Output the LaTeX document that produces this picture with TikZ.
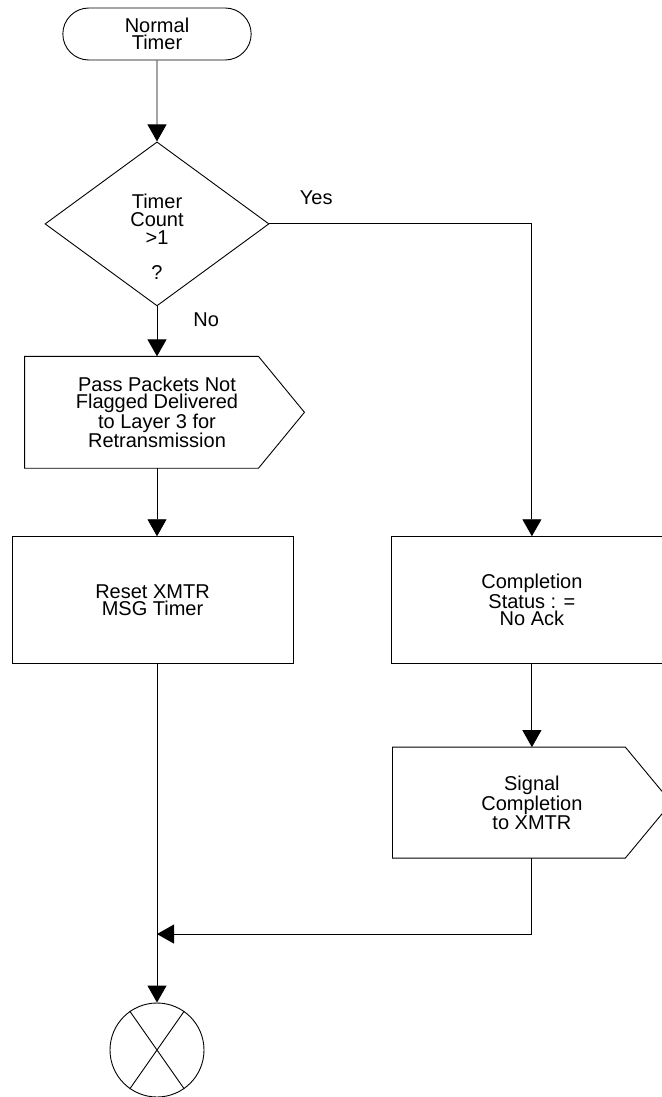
\documentclass[tikz,border=0pt]{standalone}
\usepackage{fontspec}
\setmainfont{Liberation Sans}
\usetikzlibrary{arrows.meta,positioning,shapes.geometric,shapes.misc}

\tikzset{
  terminal/.style={rounded rectangle, draw, align=center,
    minimum width=195pt, minimum height=52pt},
  decision/.style={diamond, draw, minimum width=224pt, minimum height=164pt},
  process/.style={rectangle, draw, align=center,
    minimum width=281pt, minimum height=127pt},
  outbox/.style={rectangle, align=center,
    minimum width=278pt, minimum height=111pt},
  sink/.style={circle, draw, minimum size=94pt, inner sep=0pt},
  lbl/.style={inner sep=0pt}
}

\begin{document}
\begin{tikzpicture}[x=1pt, y=1pt,
    font=\fontsize{20pt}{17.6pt}\selectfont,
    line width=0.9pt,
    >={Triangle[length=17pt, width=19pt]}]
  \useasboundingbox (0,0) rectangle (661,-1097);

  \node[terminal] (start) at (157,-34) {Normal\\Timer};
  \node[decision,
        below=81pt of start,
        label={[align=center, yshift=-13pt]center:{Timer\\Count\\>1\\[17.6pt]?}}] (cnt) {};
  \node[outbox,
        below=50pt of cnt,
        minimum width=264pt] (pass) {Pass Packets Not\\Flagged Delivered\\to Layer 3 for\\Retransmission};
  \node[process,
        below=68pt of pass,
        xshift=-4.5pt] (reset) {Reset XMTR\\MSG Timer};
  \node[process,
        right=98pt of reset,
        minimum width=280pt] (stat) {Completion\\Status : =\\No Ack};
  \node[outbox,
        below=83pt of stat,
        minimum height=110pt] (sig) {Signal\\Completion\\to XMTR};
  \node[sink] (stop) at (157,-1050) {};
  \coordinate[below=76pt of sig] (bend);

  % pointed outlines of the output blocks
  \draw (pass.north west) -- ([xshift=-31pt]pass.north east) -- ([xshift=15pt]pass.east)
    -- ([xshift=-31pt]pass.south east) -- (pass.south west) -- cycle;
  \draw (sig.north west) -- ([xshift=-46pt]sig.north east) -- (sig.east)
    -- ([xshift=-46pt]sig.south east) -- (sig.south west) -- cycle;
  % cross in the end symbol
  \draw (stop.55) -- (stop.235) (stop.125) -- (stop.305);

  % Connect the blocks with arrows
  \draw[->] (start) -- (cnt);
  \draw[->] (cnt.east) -| node[lbl, pos=0, anchor=base west, xshift=30pt, yshift=19pt] {Yes} (stat.north);
  \draw[->] (cnt.south) -- node[lbl, pos=0, anchor=base west, xshift=36pt, yshift=-20pt] {No} (pass.north);
  \draw[->] (pass.south) -- (reset.north -| pass.south);
  \draw[->] (stat) -- (sig);
  \draw[->] (sig.south) -- (bend) -- (bend -| stop);
  \draw[->] (reset.south -| stop) -- (stop);
\end{tikzpicture}
\end{document}
